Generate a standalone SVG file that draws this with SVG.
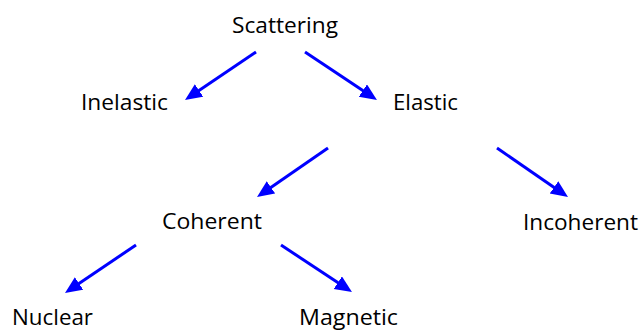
<svg xmlns="http://www.w3.org/2000/svg" width="643" height="331" viewBox="0 0 643 331">
  <style>
    .lbl { font-family: "Open Sans", "Liberation Sans", sans-serif; font-size: 21px; fill: #000; }
    .conn line { stroke: #0000FF; stroke-width: 3; fill: none; marker-end: url(#ah); }
  </style>
  <defs>
    <marker id="ah" markerUnits="userSpaceOnUse" markerWidth="18" markerHeight="16" refX="9" refY="7.5" orient="auto" viewBox="0 0 18 16">
      <path d="M0,0 L17,7.5 L0,15 z" fill="#0000FF"/>
    </marker>
  </defs>
  <rect width="643" height="331" fill="#fff"/>
  <g id="scattering"><text class="lbl" x="232" y="33" textLength="106" lengthAdjust="spacingAndGlyphs">Scattering</text></g>
  <g id="inelastic"><text class="lbl" x="81" y="110" textLength="87" lengthAdjust="spacingAndGlyphs">Inelastic</text></g>
  <g id="elastic"><text class="lbl" x="393" y="110" textLength="65" lengthAdjust="spacingAndGlyphs">Elastic</text></g>
  <g id="coherent"><text class="lbl" x="162" y="229" textLength="100" lengthAdjust="spacingAndGlyphs">Coherent</text></g>
  <g id="incoherent"><text class="lbl" x="523" y="230" textLength="115" lengthAdjust="spacingAndGlyphs">Incoherent</text></g>
  <g id="nuclear"><text class="lbl" x="12" y="325" textLength="81" lengthAdjust="spacingAndGlyphs">Nuclear</text></g>
  <g id="magnetic"><text class="lbl" x="299" y="325" textLength="99" lengthAdjust="spacingAndGlyphs">Magnetic</text></g>
  <g id="connectors" class="conn">
    <line x1="256" y1="52" x2="191.6" y2="95.5"/>
    <line x1="305" y1="52" x2="370.3" y2="95.6"/>
    <line x1="328" y1="148" x2="263.6" y2="192.5"/>
    <line x1="497" y1="148" x2="561.4" y2="192.5"/>
    <line x1="136" y1="245" x2="71.6" y2="288.5"/>
    <line x1="281" y1="245" x2="345.3" y2="287.6"/>
  </g>
</svg>
